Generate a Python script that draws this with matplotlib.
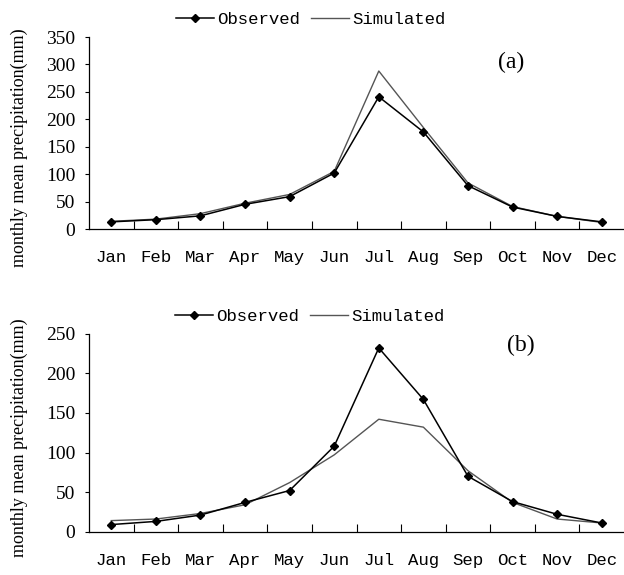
import matplotlib
matplotlib.use("Agg")
import matplotlib.pyplot as plt
import numpy as np

months = ["Jan", "Feb", "Mar", "Apr", "May", "Jun", "Jul", "Aug", "Sep", "Oct", "Nov", "Dec"]

# panel (a)
obs_a = [13, 17, 24, 45, 59, 102, 241, 177, 79, 40, 23, 13]
sim_a = [14, 18, 28, 47, 63, 105, 288, 185, 84, 41, 23, 12]

# panel (b)
obs_b = [9, 13, 21, 37, 52, 108, 232, 167, 70, 38, 22, 11]
sim_b = [14, 16, 23, 34, 62, 97, 142, 132, 77, 37, 16, 11]

MONO = "Liberation Mono"
SERIF = "Liberation Serif"

plt.rcParams["font.family"] = SERIF

fig = plt.figure(figsize=(6.24, 5.75), dpi=100)
W, H = 624.0, 575.0


def panel(rect, obs, sim, ymax, label, label_xy, legend_xy):
    ax = fig.add_axes(rect)
    x = np.arange(len(months))
    ax.plot(x, sim, color="#555555", linewidth=1.0, label="Simulated")
    ax.plot(x, obs, color="black", linewidth=1.1, marker="D", markersize=4.5, label="Observed")
    ax.set_xlim(-0.5, len(months) - 0.5)
    ax.set_ylim(0, ymax)
    ax.set_yticks(np.arange(0, ymax + 1, 50))
    ax.set_yticklabels([str(v) for v in range(0, ymax + 1, 50)], fontfamily=SERIF, fontsize=14)

    # tick marks between categories, labels at category centres
    ax.set_xticks(np.arange(0.5, len(months) - 1, 1.0))
    ax.set_xticklabels([])
    ax.tick_params(axis="x", which="major", direction="in", length=6, width=0.8)
    ax.set_xticks(x, minor=True)
    ax.set_xticklabels(months, minor=True, fontfamily=MONO, fontsize=12.5)
    ax.tick_params(axis="x", which="minor", length=0, pad=15)
    ax.tick_params(axis="y", direction="out", length=3, width=0.8, pad=7)

    for side in ("top", "right"):
        ax.spines[side].set_visible(False)
    for side in ("left", "bottom"):
        ax.spines[side].set_linewidth(0.9)

    fig.text(label_xy[0] / W, 1 - label_xy[1] / H, label, fontsize=17,
             ha="center", va="center", fontfamily=SERIF)

    handles, labels = ax.get_legend_handles_labels()
    fig.legend(handles[::-1], labels[::-1], loc="center",
               bbox_to_anchor=(legend_xy[0] / W, 1 - legend_xy[1] / H),
               ncol=2, frameon=False, handlelength=2.2, handletextpad=0.2,
               columnspacing=0.6, prop={"family": MONO, "size": 12.5})
    return ax


panel([89 / W, 1 - 229 / H, 535 / W, 192 / H], obs_a, sim_a, 350, "(a)", (511, 62), (311, 19))
panel([89 / W, 1 - 531.7 / H, 535 / W, 198 / H], obs_b, sim_b, 250, "(b)", (521, 345), (310, 316))

ylab = "monthly mean precipitation(mm)"
fig.text(19 / W, 1 - 148 / H, ylab, rotation=90, ha="center", va="center", fontsize=13, fontfamily=SERIF)
fig.text(19 / W, 1 - 438 / H, ylab, rotation=90, ha="center", va="center", fontsize=13, fontfamily=SERIF)

fig.savefig("out.png", dpi=100)
